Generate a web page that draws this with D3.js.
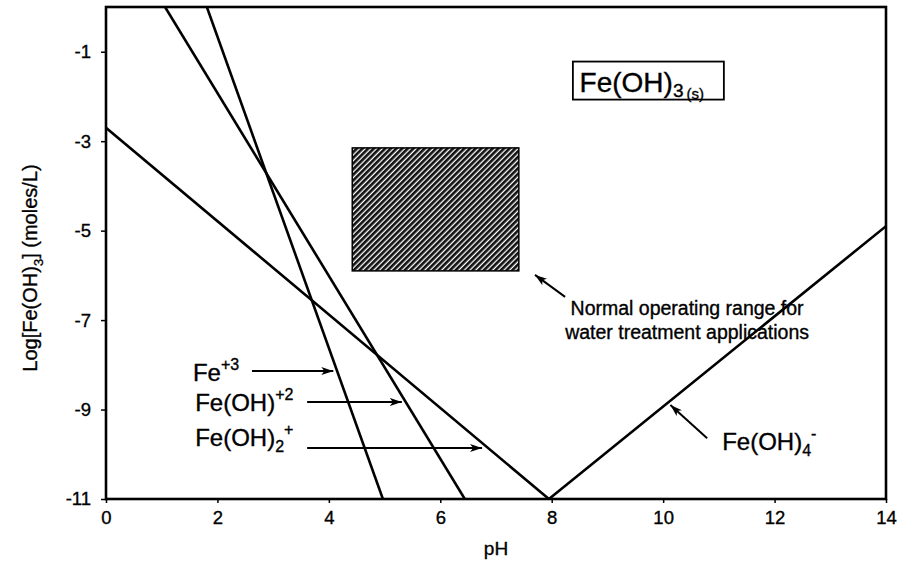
<!DOCTYPE html>
<html>
<head>
<meta charset="utf-8">
<script src="https://cdn.jsdelivr.net/npm/d3@7"></script>
<style>
  html, body { margin: 0; padding: 0; background: #fff; }
  svg text { font-family: "Liberation Sans", Arial, Helvetica, sans-serif; fill: #000; stroke: #000; stroke-width: 0.35px; }
</style>
</head>
<body>
<svg id="chart" width="900" height="569"></svg>
<script>
// ---- data ----
const xTicks = [0, 2, 4, 6, 8, 10, 12, 14];
const yTicks = [-1, -3, -5, -7, -9, -11];
const xDomain = [0, 14];
const yDomain = [-11, 0];

// species lines as [pH, log concentration]
const fe3    = [[1.81, 0], [4.97, -11]];
const feOH   = [[1.06, 0], [6.44, -11]];
const feOH2  = [[0, -2.7], [7.95, -11]];
const feOH4  = [[7.95, -11], [14, -4.9]];

// normal operating range (pH, log)
const opPH  = [4.42, 7.41];
const opLog = [-3.15, -5.9];

// species labels: text x, baseline y, arrow y, arrow from, arrow to
const labelNames  = ["Fe", "Fe(OH)", "Fe(OH)"];
const labelSup    = ["+3", "+2", "+"];
const labelSub    = ["", "", "2"];
const labelX      = [1.56, 1.60, 1.60];
const labelY      = [-8.36, -9.03, -9.81];
const arrowY      = [-8.14, -8.83, -9.86];
const arrowFromX  = [2.62, 3.61, 3.61];
const arrowToX    = [4.08, 5.31, 6.75];

// Fe(OH)4- label
const ohm4Text  = [11.06, -9.90];
const ohm4Arrow = [[10.79, -9.64], [10.13, -8.90]];

// normal operating annotation
const opText  = ["Normal operating range for", "water treatment applications"];
const opTextPos = [10.43, -6.88, -7.42];
const opArrow = [[8.24, -6.48], [7.70, -5.99]];

// solid-phase box
const boxPH  = [8.38, 11.09];
const boxLog = [-1.22, -2.07];
const boxTextPos = [8.5, -1.9];

// ---- layout ----
const svg = d3.select("#chart");
const x = d3.scaleLinear().domain(xDomain).range([106, 886]);
const y = d3.scaleLinear().domain(yDomain).range([499, 7]);

const defs = svg.append("defs");
const pat = defs.append("pattern")
  .attr("id", "hatch").attr("patternUnits", "userSpaceOnUse")
  .attr("width", 4.0).attr("height", 10)
  .attr("patternTransform", "rotate(45)");
pat.append("rect").attr("width", 4.0).attr("height", 10).attr("fill", "#fff");
pat.append("rect").attr("width", 2.7).attr("height", 10).attr("fill", "#111");

const marker = defs.append("marker")
  .attr("id", "arrow").attr("viewBox", "0 0 12 10")
  .attr("refX", 12).attr("refY", 5)
  .attr("markerWidth", 12).attr("markerHeight", 10)
  .attr("markerUnits", "userSpaceOnUse")
  .attr("orient", "auto");
marker.append("path").attr("d", "M0,1 L12,5 L0,9 L3,5 Z").attr("fill", "#000");

// axes
const xAxis = d3.axisBottom(x).tickValues(xTicks).tickSize(4).tickPadding(8).tickFormat(d3.format("d"));
const yAxis = d3.axisLeft(y).tickValues(yTicks).tickSize(5).tickPadding(10).tickFormat(d => d3.format("d")(d).replace("−", "-"));

const gx = svg.append("g").attr("transform", "translate(0,499)").call(xAxis);
const gy = svg.append("g").attr("transform", "translate(106,0)").call(yAxis);
[gx, gy].forEach(g => {
  g.select(".domain").remove();
  g.selectAll(".tick line").attr("stroke", "#000").attr("stroke-width", 1.5);
  g.selectAll(".tick text").style("font-size", "18.5px").attr("fill", "#000");
});

// hatched range
svg.append("rect")
  .attr("x", x(opPH[0])).attr("y", y(opLog[0]))
  .attr("width", x(opPH[1]) - x(opPH[0]))
  .attr("height", y(opLog[1]) - y(opLog[0]))
  .attr("fill", "url(#hatch)").attr("stroke", "#000").attr("stroke-width", 1.5);

// species lines
const line = d3.line().x(d => x(d[0])).y(d => y(d[1]));
svg.append("clipPath").attr("id", "clip").append("rect")
  .attr("x", x(0)).attr("y", y(0)).attr("width", x(14) - x(0)).attr("height", y(-11) - y(0));
const gl = svg.append("g").attr("clip-path", "url(#clip)");
[fe3, feOH, feOH2, feOH4].forEach(d => {
  gl.append("path").attr("d", line(d)).attr("fill", "none")
    .attr("stroke", "#000").attr("stroke-width", 2.6);
});

// frame
svg.append("rect").attr("x", x(0)).attr("y", y(0))
  .attr("width", x(14) - x(0)).attr("height", y(-11) - y(0))
  .attr("fill", "none").attr("stroke", "#000").attr("stroke-width", 2.6);

// axis titles
svg.append("text").attr("x", (x(0) + x(14)) / 2).attr("y", 555)
  .attr("text-anchor", "middle").style("font-size", "19px").text("pH");

const yt = svg.append("text")
  .attr("transform", "translate(37,268) rotate(-90)")
  .attr("text-anchor", "middle").style("font-size", "20px");
yt.append("tspan").text("Log[Fe(OH)");
yt.append("tspan").attr("dy", 6).style("font-size", "13px").text("3");
yt.append("tspan").attr("dy", -6).text("] (moles/L)");

// species labels with arrows
labelNames.forEach((n, i) => {
  const t = svg.append("text").attr("x", x(labelX[i])).attr("y", y(labelY[i]))
    .style("font-size", "24px");
  t.append("tspan").text(n);
  if (labelSub[i]) t.append("tspan").attr("dy", 6).style("font-size", "16px").text(labelSub[i]);
  t.append("tspan").attr("dy", labelSub[i] ? -17 : -11).style("font-size", "16px").text(labelSup[i]);
  svg.append("line")
    .attr("x1", x(arrowFromX[i])).attr("y1", y(arrowY[i]))
    .attr("x2", x(arrowToX[i])).attr("y2", y(arrowY[i]))
    .attr("stroke", "#000").attr("stroke-width", 2).attr("marker-end", "url(#arrow)");
});

// Fe(OH)4-
const t4 = svg.append("text").attr("x", x(ohm4Text[0])).attr("y", y(ohm4Text[1])).style("font-size", "24px");
t4.append("tspan").text("Fe(OH)");
t4.append("tspan").attr("dy", 6).style("font-size", "16px").text("4");
t4.append("tspan").attr("dy", -17).style("font-size", "16px").text("-");
svg.append("line")
  .attr("x1", x(ohm4Arrow[0][0])).attr("y1", y(ohm4Arrow[0][1]))
  .attr("x2", x(ohm4Arrow[1][0])).attr("y2", y(ohm4Arrow[1][1]))
  .attr("stroke", "#000").attr("stroke-width", 2).attr("marker-end", "url(#arrow)");

// normal operating annotation
opText.forEach((s, i) => {
  svg.append("text").attr("x", x(opTextPos[0])).attr("y", y(opTextPos[1 + i]))
    .attr("text-anchor", "middle").style("font-size", "19.5px").text(s);
});
svg.append("line")
  .attr("x1", x(opArrow[0][0])).attr("y1", y(opArrow[0][1]))
  .attr("x2", x(opArrow[1][0])).attr("y2", y(opArrow[1][1]))
  .attr("stroke", "#000").attr("stroke-width", 2).attr("marker-end", "url(#arrow)");

// solid phase box
svg.append("rect").attr("x", x(boxPH[0])).attr("y", y(boxLog[0]))
  .attr("width", x(boxPH[1]) - x(boxPH[0])).attr("height", y(boxLog[1]) - y(boxLog[0]))
  .attr("fill", "#fff").attr("stroke", "#000").attr("stroke-width", 1.8);
const bt = svg.append("text").attr("x", x(boxTextPos[0])).attr("y", y(boxTextPos[1])).style("font-size", "28px");
bt.append("tspan").text("Fe(OH)");
bt.append("tspan").attr("dy", 5).style("font-size", "19px").text("3");
bt.append("tspan").attr("dy", 2).attr("dx", 3).style("font-size", "15px").text("(s)");
</script>
</body>
</html>
